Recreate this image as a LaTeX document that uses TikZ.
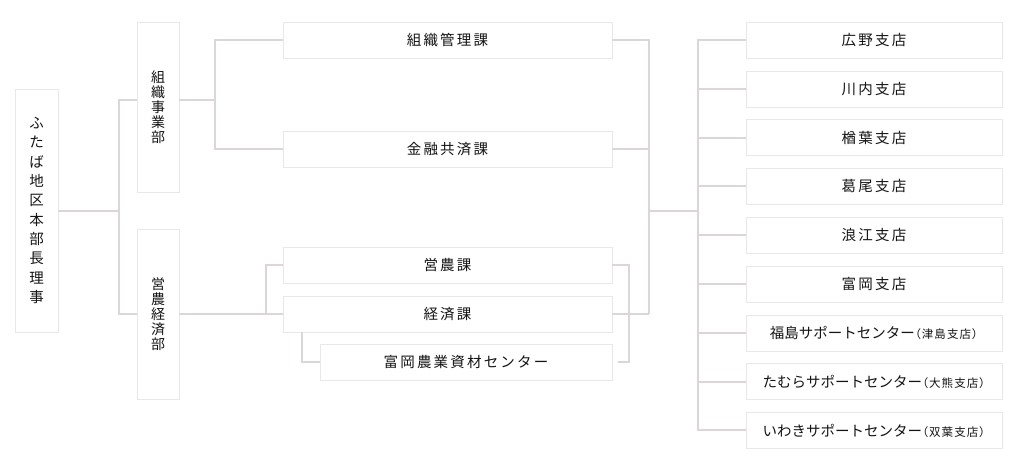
\documentclass[tikz,border=0pt]{standalone}
\usepackage{fontspec}
\newfontfamily\jp{Noto Sans CJK JP}
\newfontfamily\jpls[LetterSpace=15]{Noto Sans CJK JP}
\newfontfamily\jpk[LetterSpace=0]{Noto Sans CJK JP}
\newfontfamily\jpp[RawFeature=+palt, LetterSpace=10]{Noto Sans CJK JP}
\usetikzlibrary{shadows}
\definecolor{linec}{HTML}{DDD6D8}
\definecolor{txt}{HTML}{141414}
\newcommand{\sub}[1]{{\jpp\fontsize{11.5}{12}\selectfont #1}}
\begin{document}
\begin{tikzpicture}[x=1pt,y=-1pt,
  box/.style={fill=white, draw=black!9, line width=0.6pt, inner sep=0pt, text=txt,
    drop shadow={shadow xshift=0.8pt, shadow yshift=-0.8pt, fill=black, opacity=0.10}},
  hbox/.style={box, minimum height=36pt, font=\jpls\fontsize{14.5}{16}\selectfont},
  cbox/.style={hbox, font=\jpk\fontsize{14.5}{16}\selectfont},
  vbox/.style={box, minimum width=42pt, minimum height=170pt, align=center,
    font=\jp\fontsize{14}{15}\selectfont},
  conn/.style={draw=linec, line width=2pt}]
\useasboundingbox (0,0) rectangle (1028,467);

% root
\node[box, minimum width=43pt, minimum height=243pt, align=center,
  font=\jp\fontsize{14.5}{19.3}\selectfont] (root) at (36.5,210.5)
  {ふ\\た\\ば\\地\\区\\本\\部\\長\\理\\事};

% departments
\node[vbox] (d1) at (158,107) {組\\織\\事\\業\\部};
\node[vbox] (d2) at (158,314) {営\\農\\経\\済\\部};

% sections
\node[hbox, minimum width=329pt] (s1) at (447.5,40) {組織管理課};
\node[hbox, minimum width=329pt] (s2) at (447.5,149) {金融共済課};
\node[hbox, minimum width=329pt] (s3) at (447.5,265) {営農課};
\node[hbox, minimum width=329pt] (s4) at (447.5,314) {経済課};
\node[hbox, minimum width=292pt] (s5) at (466,362) {富岡農業資材センター};

% branches
\node[hbox, minimum width=256pt] (b1) at (874,40) {広野支店};
\node[hbox, minimum width=256pt] (b2) at (874,88.8) {川内支店};
\node[hbox, minimum width=256pt] (b3) at (874,137.6) {楢葉支店};
\node[hbox, minimum width=256pt] (b4) at (874,186.4) {葛尾支店};
\node[hbox, minimum width=256pt] (b5) at (874,235.2) {浪江支店};
\node[hbox, minimum width=256pt] (b6) at (874,284) {富岡支店};
\node[cbox, minimum width=256pt] (b7) at (874,332.8) {福島サポートセンター\sub{（津島支店）}};
\node[cbox, minimum width=256pt] (b8) at (874,381.6) {たむらサポートセンター\sub{（大熊支店）}};
\node[cbox, minimum width=256pt] (b9) at (874,430.4) {いわきサポートセンター\sub{（双葉支店）}};

% junctions
\coordinate (j1) at (119,210.5);
\coordinate (j2) at (215,100);
\coordinate (j3) at (266,314);
\coordinate (j4) at (629,314);
\coordinate (j5) at (649,314);
\coordinate (j6) at (649,211);
\coordinate (j7) at (698,211);

% connectors
\draw[conn] (root.east) -- (j1);
\draw[conn] ([yshift=7pt]d1.west) -| (j1) |- (d2.west);
\draw[conn] ([yshift=7pt]d1.east) -- (j2);
\draw[conn] (s1.west) -| (j2) |- (s2.west);
\draw[conn] (d2.east) -- (s4.west);
\draw[conn] (s3.west) -| (j3);
\draw[conn] ([xshift=19pt]s4.south west) |- (s5.west);
\draw[conn] (s3.east) -| (j4) |- ([xshift=6pt]s5.east);
\draw[conn] (s4.east) -- (j5);
\draw[conn] (s1.east) -| (j5);
\draw[conn] (s2.east) -- (s2.east -| j5);
\draw[conn] (j6) -- (j7);
\draw[conn] (b1.west) -| (j7) |- (b9.west);
\foreach \b in {b2,b3,b4,b5,b6,b7,b8}
  \draw[conn] (\b.west) -- (\b.west -| j7);
\end{tikzpicture}
\end{document}
